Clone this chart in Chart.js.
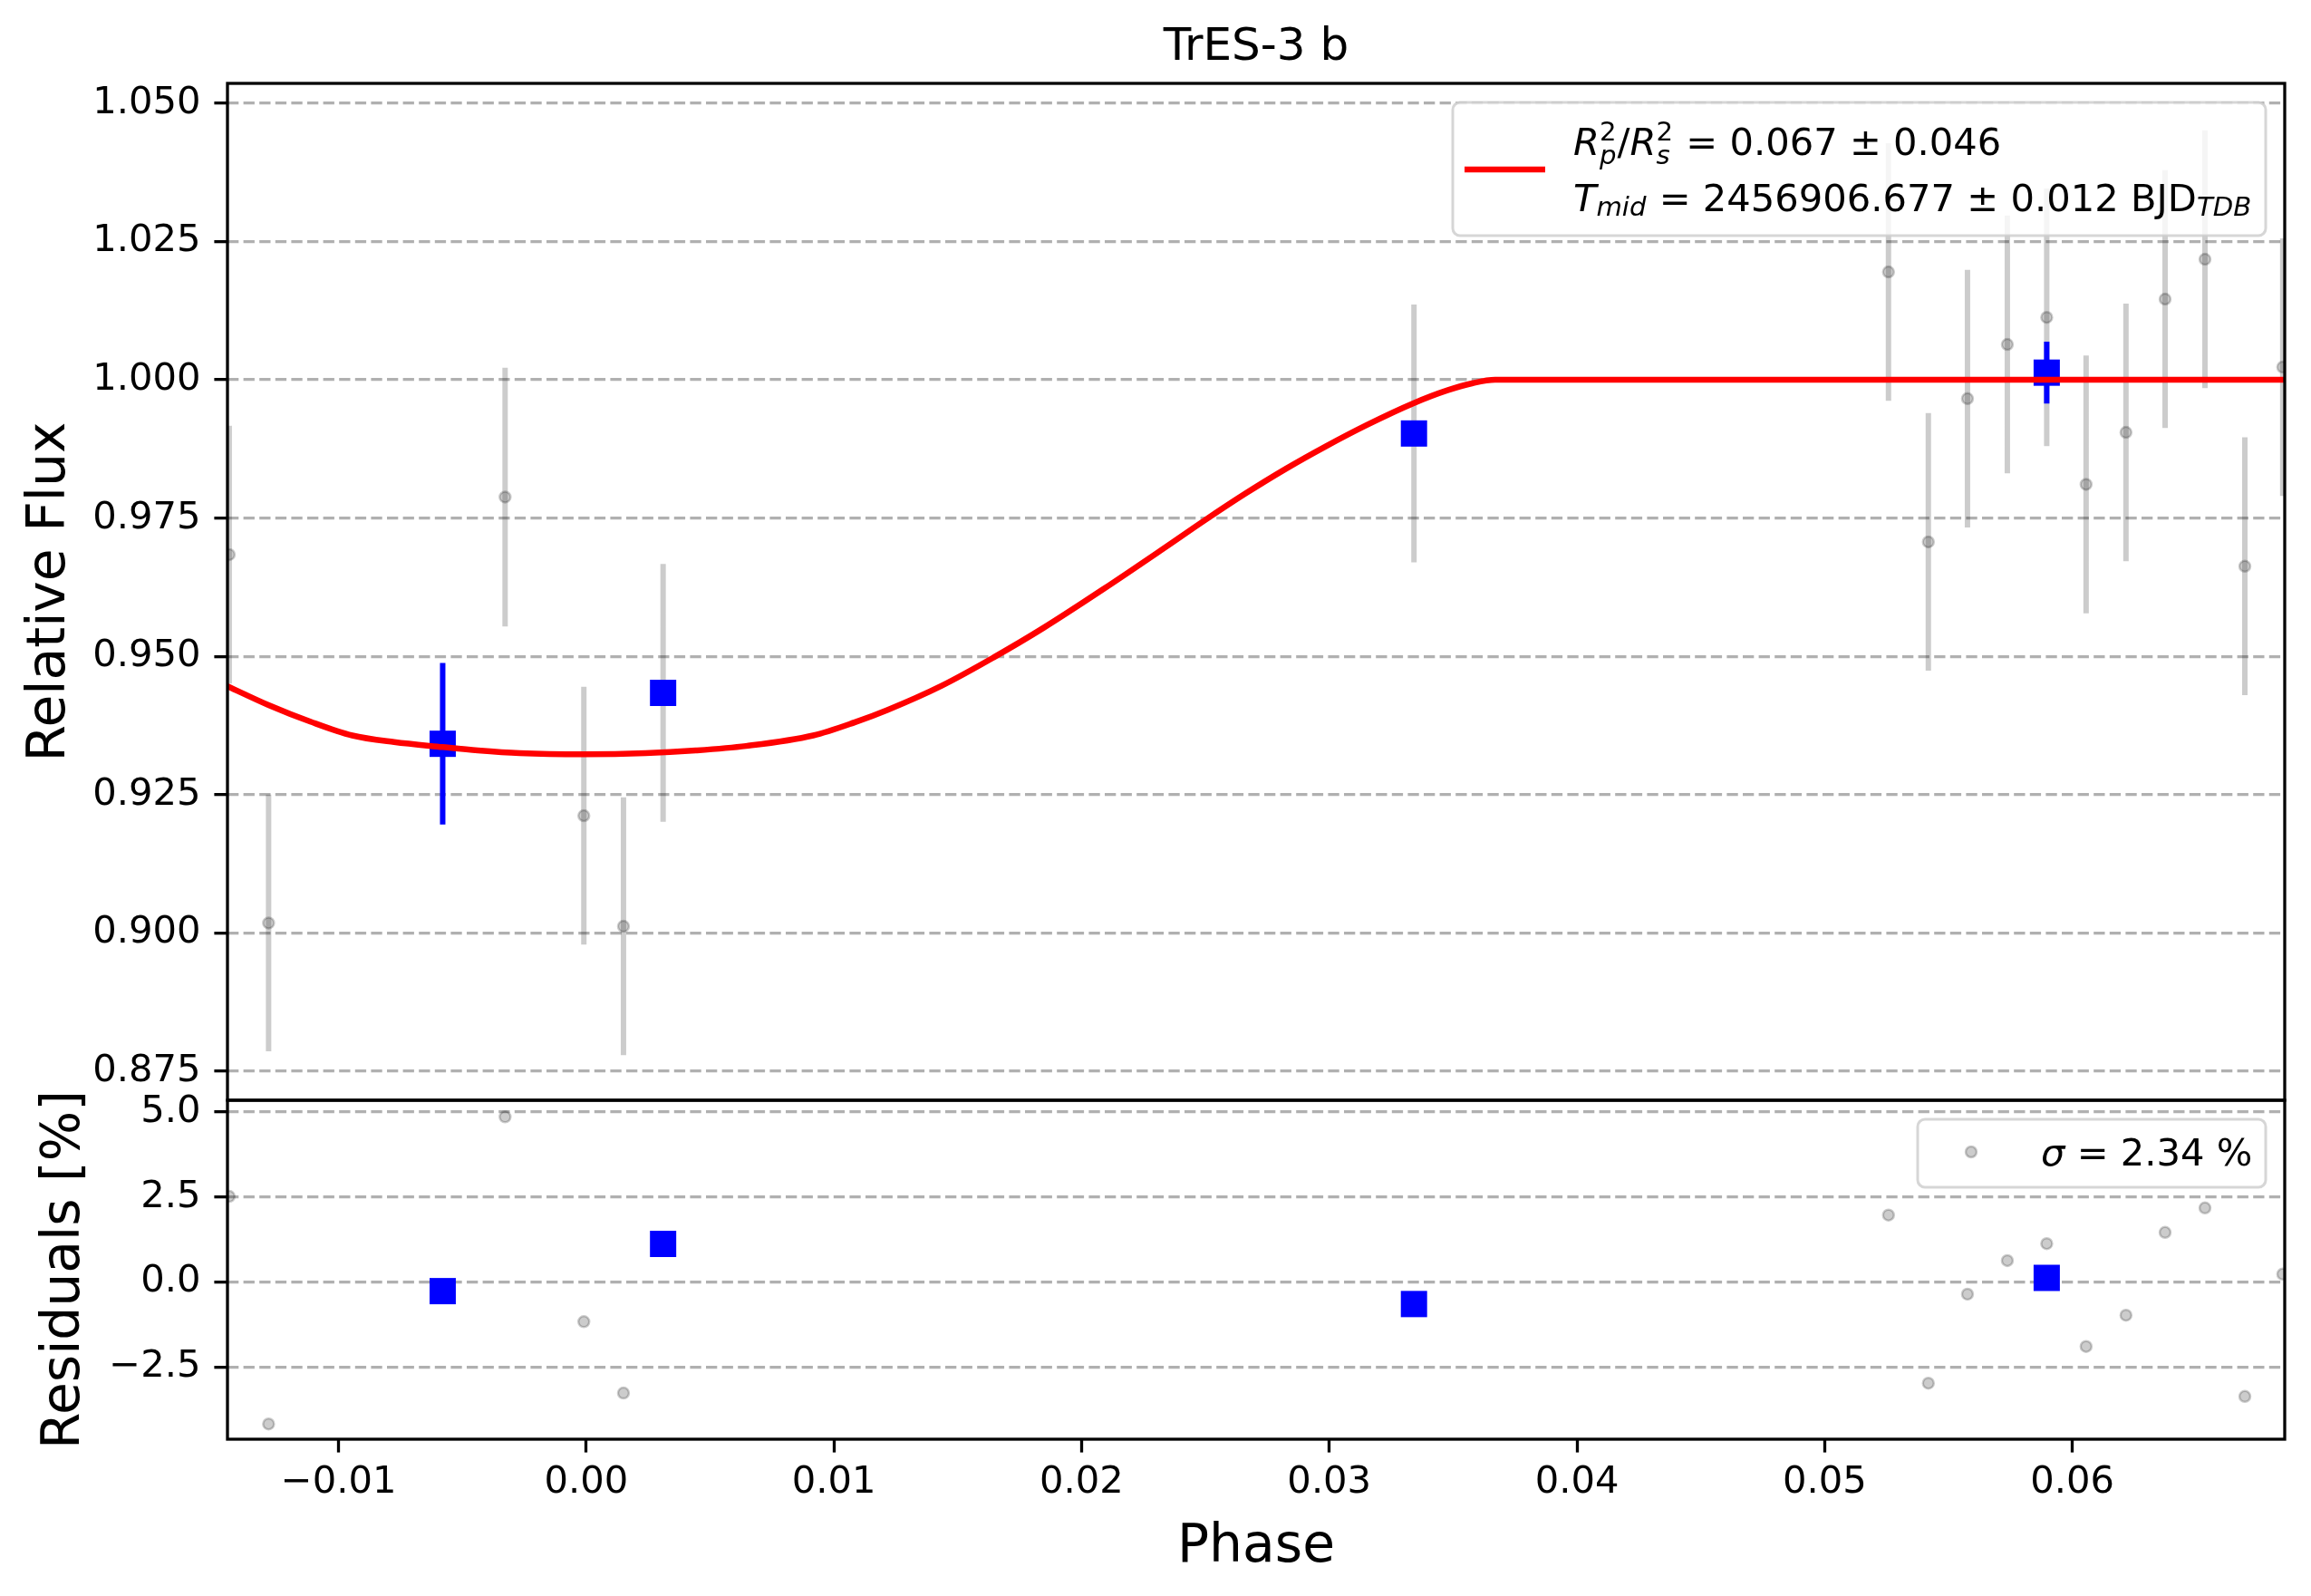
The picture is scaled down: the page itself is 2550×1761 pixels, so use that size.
<!DOCTYPE html>
<html>
<head>
<meta charset="utf-8">
<title>TrES-3 b</title>
<script src="https://cdn.jsdelivr.net/npm/chart.js@4.4.1/dist/chart.umd.min.js"></script>
<style>
  html, body { margin: 0; padding: 0; background: #fff; }
  #wrap { position: relative; width: 2550px; height: 1761px; }
  #wrap canvas { position: absolute; left: 0; top: 0; }
</style>
</head>
<body>
<div id="wrap">
  <canvas id="fluxChart" width="2550" height="1761"></canvas>
  <canvas id="resChart" width="2550" height="1761"></canvas>
</div>
<script>
/* ================= DATA ================= */
const phaseTicks = [-0.01, 0.00, 0.01, 0.02, 0.03, 0.04, 0.05, 0.06];
const fluxTicks = [0.875, 0.900, 0.925, 0.950, 0.975, 1.000, 1.025, 1.050];
const resTicks = [-2.5, 0.0, 2.5, 5.0];

const phaseRange = [-0.01449, 0.06858];
const fluxRange = [0.86975, 1.0536];
const resRange = [-4.63, 5.35];

// single exposures (grey)
const obsPhase = [-0.01442, -0.01283, -0.00328, -0.00010, 0.00150, 0.00310, 0.03342,
  0.05258, 0.05419, 0.05577, 0.05738, 0.05897, 0.06056, 0.06217, 0.06375, 0.06536, 0.06697, 0.06850];
const obsFlux = [0.9684, 0.9018, 0.9788, 0.9212, 0.9012, 0.9434, 0.9903,
  1.0195, 0.9707, 0.9966, 1.0064, 1.0113, 0.9811, 0.9905, 1.0146, 1.0218, 0.9663, 1.0023];
const obsErr = [0.0233, 0.0232, 0.0234, 0.0233, 0.0233, 0.0233, 0.0233,
  0.0233, 0.0233, 0.0233, 0.0233, 0.0233, 0.0233, 0.0233, 0.0233, 0.0233, 0.0233, 0.0233];
const obsRes = [2.52, -4.18, 4.86, -1.17, -3.27, 1.12, -0.65,
  1.97, -2.98, -0.36, 0.63, 1.13, -1.90, -0.98, 1.46, 2.18, -3.37, 0.23];

// binned points (blue)
const binPhase = [-0.00580, 0.00310, 0.03342, 0.05897];
const binFlux = [0.9342, 0.9434, 0.9903, 1.0013];
const binErr = [0.0146, 0, 0, 0.0056];
const binRes = [-0.27, 1.12, -0.65, 0.12];

// transit model (red)
const modelPhase = [-0.01453, -0.01283, -0.01114, -0.00945, -0.00776, -0.00580, -0.00438, -0.00269,
  -0.00008, 0.00239, 0.00442, 0.00645, 0.00916, 0.01085, 0.01215, 0.01435, 0.01648, 0.01844,
  0.02089, 0.02334, 0.02497, 0.02660, 0.02824, 0.02987, 0.03150, 0.03342, 0.03477, 0.03580,
  0.03670, 0.06858];
const modelFlux = [0.9447, 0.9412, 0.9382, 0.9357, 0.9345, 0.9336, 0.9330, 0.9325,
  0.9323, 0.9325, 0.9330, 0.9338, 0.9357, 0.9381, 0.9403, 0.9447, 0.9499, 0.9551,
  0.9622, 0.9696, 0.9746, 0.9794, 0.9839, 0.9880, 0.9918, 0.9958, 0.9981, 0.9994,
  1.0000, 1.0000];

/* ================= HELPERS ================= */
const FONT = '"DejaVu Sans"';
const TICK_SIZE = 41.67;
const LABEL_SIZE = 58.3;

Chart.defaults.font.family = "DejaVu Sans";
Chart.defaults.color = "#000";

function fmt(v, d) {
  return (v < 0 ? "\u2212" : "") + Math.abs(v).toFixed(d);
}

function points(xs, ys) {
  return xs.map((x, i) => ({ x, y: ys[i] }));
}

// vertical error bars as broken line segments
function errorSegments(xs, ys, errs) {
  const pts = [];
  xs.forEach((x, i) => {
    if (!errs[i]) return;
    pts.push({ x, y: ys[i] - errs[i] }, { x, y: ys[i] + errs[i] }, { x, y: null });
  });
  return pts;
}

function yAxis(range, ticks, digits, title, titlePad) {
  return {
    type: "linear",
    min: range[0],
    max: range[1],
    afterFit: s => { s.width = 251; },
    afterBuildTicks: s => { s.ticks = ticks.map(v => ({ value: v })); },
    ticks: {
      padding: 15,
      font: { size: TICK_SIZE },
      color: "#000",
      callback: v => fmt(v, digits)
    },
    grid: {
      color: "#b0b0b0",
      lineWidth: 3.3,
      tickLength: 14.6,
      tickColor: "#000",
      tickWidth: 3.3,
      tickBorderDash: []
    },
    border: { display: false, dash: [12.3, 5.3] },
    title: {
      display: true,
      text: title,
      font: { size: LABEL_SIZE },
      color: "#000",
      padding: { top: titlePad, bottom: 0 }
    }
  };
}

function legendBox(ctx, x, y, w, h) {
  ctx.save();
  ctx.beginPath();
  ctx.roundRect(x, y, w, h, 8);
  ctx.fillStyle = "rgba(255,255,255,0.8)";
  ctx.fill();
  ctx.strokeStyle = "rgba(204,204,204,0.8)";
  ctx.lineWidth = 3;
  ctx.stroke();
  ctx.restore();
}

// text with math-like sub / superscripts
function drawRich(ctx, x, y, parts, size) {
  const small = size * 0.7;
  ctx.textBaseline = "alphabetic";
  ctx.textAlign = "left";
  parts.forEach(p => {
    if (p.t !== undefined) {
      ctx.font = (p.it ? "italic " : "") + size + "px " + FONT;
      ctx.fillText(p.t, x, y);
      x += ctx.measureText(p.t).width;
    } else {
      let w = 0;
      const both = p.sup && p.sub;
      if (p.sup) {
        ctx.font = small + "px " + FONT;
        ctx.fillText(p.sup, x, y - 16.5);
        w = Math.max(w, ctx.measureText(p.sup).width);
      }
      if (p.sub) {
        ctx.font = "italic " + small + "px " + FONT;
        ctx.fillText(p.sub, x, y + (both ? 10 : 4.5));
        w = Math.max(w, ctx.measureText(p.sub).width);
      }
      x += w + 1;
    }
  });
}

const legendLine1 = [
  { t: "R", it: true }, { sup: "2", sub: "p" }, { t: "/" },
  { t: "R", it: true }, { sup: "2", sub: "s" }, { t: " = 0.067 \u00b1 0.046" }
];
const legendLine2 = [
  { t: "T", it: true }, { sub: "mid" },
  { t: " = 2456906.677 \u00b1 0.012 BJD" }, { sub: "TDB" }
];
const sigmaLine = [{ t: "\u03c3", it: true }, { t: " = 2.34 %" }];

/* ================= PLUGINS ================= */
const frame = {
  id: "frame",
  afterDatasetsDraw(chart) {
    const { ctx, chartArea: a } = chart;
    ctx.save();
    ctx.strokeStyle = "#000";
    ctx.lineWidth = 3.3;
    ctx.strokeRect(a.left, a.top, a.right - a.left, a.bottom - a.top);
    ctx.restore();
  }
};

const fitLegend = {
  id: "fitLegend",
  afterDraw(chart) {
    const { ctx, chartArea: a } = chart;
    const w = 897, h = 147;
    const x0 = a.right - 21 - w, y0 = a.top + 21;
    legendBox(ctx, x0, y0, w, h);
    ctx.save();
    ctx.strokeStyle = "#ff0000";
    ctx.lineWidth = 6.5;
    ctx.beginPath();
    ctx.moveTo(x0 + 13, y0 + 74);
    ctx.lineTo(x0 + 102, y0 + 74);
    ctx.stroke();
    ctx.fillStyle = "#000";
    drawRich(ctx, x0 + 133, y0 + 58, legendLine1, TICK_SIZE);
    drawRich(ctx, x0 + 133, y0 + 120, legendLine2, TICK_SIZE);
    ctx.restore();
  }
};

const resLegend = {
  id: "resLegend",
  afterDraw(chart) {
    const { ctx, chartArea: a } = chart;
    const w = 384, h = 75;
    const x0 = a.right - 21 - w, y0 = a.top + 21;
    legendBox(ctx, x0, y0, w, h);
    ctx.save();
    ctx.beginPath();
    ctx.arc(x0 + 59, y0 + 36, 6, 0, Math.PI * 2);
    ctx.fillStyle = "rgba(0,0,0,0.2)";
    ctx.fill();
    ctx.strokeStyle = "rgba(0,0,0,0.2)";
    ctx.lineWidth = 2.5;
    ctx.stroke();
    ctx.fillStyle = "#000";
    drawRich(ctx, x0 + 136, y0 + 51, sigmaLine, TICK_SIZE);
    ctx.restore();
  }
};

/* ================= FLUX PANEL ================= */
new Chart(document.getElementById("fluxChart"), {
  type: "scatter",
  data: {
    datasets: [
      {
        type: "line",
        label: "model",
        data: points(modelPhase, modelFlux),
        borderColor: "#ff0000",
        borderWidth: 6.5,
        pointRadius: 0,
        cubicInterpolationMode: "monotone",
        clip: 0,
        order: 1
      },
      {
        label: "binned",
        data: points(binPhase, binFlux),
        pointStyle: "rect",
        pointRadius: 20.5,
        pointBorderWidth: 0,
        backgroundColor: "#0000ff",
        borderColor: "#0000ff",
        clip: 0,
        order: 2
      },
      {
        type: "line",
        label: "binned err",
        data: errorSegments(binPhase, binFlux, binErr),
        borderColor: "#0000ff",
        borderWidth: 6,
        pointRadius: 0,
        spanGaps: false,
        clip: 0,
        order: 3
      },
      {
        label: "data",
        data: points(obsPhase, obsFlux),
        pointRadius: 6,
        pointBorderWidth: 2.5,
        backgroundColor: "rgba(0,0,0,0.2)",
        borderColor: "rgba(0,0,0,0.2)",
        clip: 0,
        order: 4
      },
      {
        type: "line",
        label: "data err",
        data: errorSegments(obsPhase, obsFlux, obsErr),
        borderColor: "rgba(0,0,0,0.2)",
        borderWidth: 6,
        pointRadius: 0,
        spanGaps: false,
        clip: 0,
        order: 5
      }
    ]
  },
  options: {
    responsive: false,
    animation: false,
    devicePixelRatio: 1,
    events: [],
    layout: { padding: { left: 0, right: 29, top: 0, bottom: 547 }, autoPadding: false },
    plugins: {
      legend: { display: false },
      tooltip: { enabled: false },
      title: {
        display: true,
        text: "TrES-3 b",
        fullSize: false,
        color: "#000",
        font: { size: 50, weight: "normal" },
        padding: { top: 23, bottom: 9 }
      }
    },
    scales: {
      x: { type: "linear", min: phaseRange[0], max: phaseRange[1], display: false },
      y: yAxis(fluxRange, fluxTicks, 3, "Relative Flux", 20.7)
    }
  },
  plugins: [frame, fitLegend]
});

/* ================= RESIDUAL PANEL ================= */
new Chart(document.getElementById("resChart"), {
  type: "scatter",
  data: {
    datasets: [
      {
        label: "binned",
        data: points(binPhase, binRes),
        pointStyle: "rect",
        pointRadius: 20.5,
        pointBorderWidth: 0,
        backgroundColor: "#0000ff",
        borderColor: "#0000ff",
        clip: 0,
        order: 1
      },
      {
        label: "data",
        data: points(obsPhase, obsRes),
        pointRadius: 6,
        pointBorderWidth: 2.5,
        backgroundColor: "rgba(0,0,0,0.2)",
        borderColor: "rgba(0,0,0,0.2)",
        clip: 0,
        order: 2
      }
    ]
  },
  options: {
    responsive: false,
    animation: false,
    devicePixelRatio: 1,
    events: [],
    layout: { padding: { left: 0, right: 29, top: 1214, bottom: 0 }, autoPadding: false },
    plugins: {
      legend: { display: false },
      tooltip: { enabled: false }
    },
    scales: {
      x: {
        type: "linear",
        min: phaseRange[0],
        max: phaseRange[1],
        afterFit: s => { s.height = 173; },
        afterBuildTicks: s => { s.ticks = phaseTicks.map(v => ({ value: v })); },
        ticks: {
          padding: 9,
          maxRotation: 0,
          font: { size: TICK_SIZE },
          color: "#000",
          callback: v => fmt(v, 2)
        },
        grid: {
          drawOnChartArea: false,
          color: "#000",
          tickLength: 14.6,
          tickColor: "#000",
          tickWidth: 3.3
        },
        border: { display: false },
        title: {
          display: true,
          text: "Phase",
          font: { size: LABEL_SIZE },
          color: "#000",
          padding: { top: 0, bottom: 18 }
        }
      },
      y: yAxis(resRange, resTicks, 1, "Residuals [%]", 37)
    }
  },
  plugins: [frame, resLegend]
});
</script>
</body>
</html>
